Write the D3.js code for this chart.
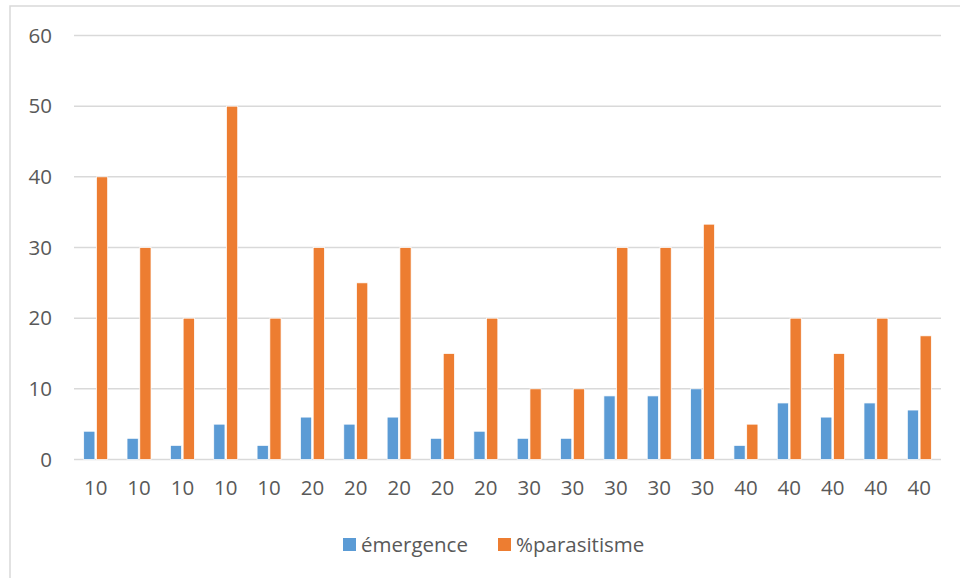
<!DOCTYPE html>
<html>
<head>
<meta charset="utf-8">
<script src="https://cdn.jsdelivr.net/npm/d3@7"></script>
<style>
  html, body { margin: 0; padding: 0; background: #fff; }
  svg { display: block; }
  text { font-family: "Open Sans", "Noto Sans", sans-serif; fill: #595959; }
</style>
</head>
<body>
<svg id="chart" width="960" height="578"></svg>
<script>
// Category labels (treatment level per sample)
const categories = [10, 10, 10, 10, 10, 20, 20, 20, 20, 20, 30, 30, 30, 30, 30, 40, 40, 40, 40, 40];
// Series values
const emergence   = [4, 3, 2, 5, 2, 6, 5, 6, 3, 4, 3, 3, 9, 9, 10, 2, 8, 6, 8, 7];
const parasitisme = [40, 30, 20, 50, 20, 30, 25, 30, 15, 20, 10, 10, 30, 30, 33.3, 5, 20, 15, 20, 17.5];
const seriesNames = ["émergence", "%parasitisme"];
const yTicks = [0, 10, 20, 30, 40, 50, 60];

const colors = ["#5B9BD5", "#ED7D31"];
const fontSize = 20.5;
const svg = d3.select("#chart");

// Outer chart frame
svg.append("rect")
  .attr("x", 10).attr("y", 6)
  .attr("width", 960).attr("height", 600)
  .attr("fill", "none").attr("stroke", "#d9d9d9").attr("stroke-width", 1.5);

const plot = { left: 74, right: 941, top: 35.5, bottom: 459.5 };

const x = d3.scaleBand()
  .domain(d3.range(categories.length))
  .range([plot.left, plot.right]);

const y = d3.scaleLinear().domain([0, 60]).range([plot.bottom, plot.top]);

const inner = d3.scaleBand()
  .domain([0, 1])
  .range([x.bandwidth() / 2 - 12, x.bandwidth() / 2 + 12])
  .paddingInner(0.12);

// Horizontal gridlines
svg.append("g")
  .selectAll("line")
  .data(yTicks)
  .join("line")
  .attr("x1", plot.left).attr("x2", plot.right)
  .attr("y1", d => y(d)).attr("y2", d => y(d))
  .attr("stroke", "#d9d9d9").attr("stroke-width", 1.5);

// Y axis labels
const yAxis = d3.axisLeft(y).tickValues(yTicks).tickSize(0).tickPadding(0);
svg.append("g")
  .attr("transform", `translate(52,0)`)
  .call(yAxis)
  .call(g => g.select(".domain").remove())
  .call(g => g.selectAll("text")
    .attr("font-size", fontSize)
    .attr("font-family", null)
    .attr("fill", "#595959"));

// X axis labels
const xAxis = d3.axisBottom(x).tickFormat(i => categories[i]).tickSize(0).tickPadding(0);
svg.append("g")
  .attr("transform", `translate(0,${plot.bottom + 21})`)
  .call(xAxis)
  .call(g => g.select(".domain").remove())
  .call(g => g.selectAll("text")
    .attr("font-size", fontSize)
    .attr("font-family", null)
    .attr("fill", "#595959"));

// Bars
const data = categories.map((c, i) => [emergence[i], parasitisme[i]]);
const groups = svg.append("g")
  .selectAll("g")
  .data(data)
  .join("g")
  .attr("transform", (d, i) => `translate(${x(i)},0)`);

groups.selectAll("rect")
  .data(d => d.map((v, s) => ({ v, s })))
  .join("rect")
  .attr("x", d => inner(d.s))
  .attr("width", inner.bandwidth())
  .attr("y", d => y(d.v))
  .attr("height", d => y(0) - y(d.v))
  .attr("fill", d => colors[d.s])
  .attr("stroke", "#fff").attr("stroke-width", 0.75);

// Legend
const legend = svg.append("g");
const legendItems = [
  { name: seriesNames[0], x: 343 },
  { name: seriesNames[1], x: 498 }
];
legendItems.forEach((item, i) => {
  legend.append("rect")
    .attr("x", item.x).attr("y", 538)
    .attr("width", 13).attr("height", 13)
    .attr("fill", colors[i]);
  legend.append("text")
    .attr("x", item.x + 18).attr("y", 551.5)
    .attr("font-size", fontSize)
    .text(item.name);
});
</script>
</body>
</html>
